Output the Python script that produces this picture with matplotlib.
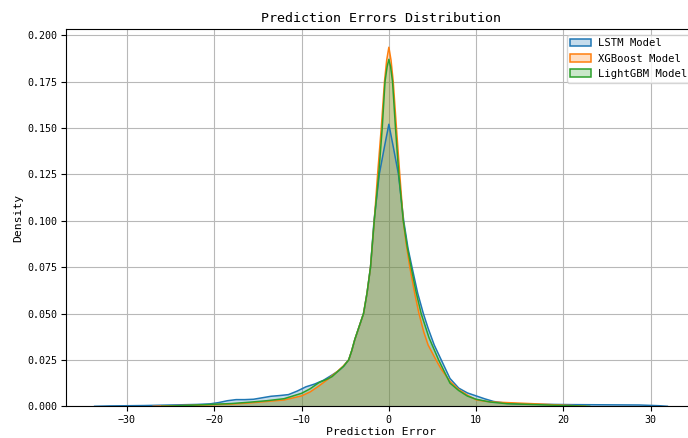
"""
Prediction error density curves (KDE) for three models
"""
import matplotlib
matplotlib.use('Agg')
import matplotlib.pyplot as plt
from matplotlib.patches import Patch
from matplotlib.colors import to_rgba

plt.rcParams['font.family'] = ['DejaVu Sans Mono']

# density curves
lstm_x = [-33.7, -32, -30, -28, -26, -24, -22, -20.5, -19.5, -18.5, -17.5, -16.5,
          -15.5, -14.5, -13.5, -12.5, -11.5, -10.5, -9.5, -8.5, -7.5, -6.7, -5.8,
          -5.2, -4.6, -4.25, -3.9, -3.4, -2.9, -2.5, -2.1, -1.7, -1.1, -0.5, 0,
          0.5, 1.1, 1.7, 2.2, 2.65, 3.3, 3.95, 4.5, 5.2, 6.0, 7, 8, 9, 10, 11, 12,
          13.5, 15, 17, 21, 25, 28.7, 31, 31.9]
lstm_density = [0, 0.0002, 0.0003, 0.0004, 0.0006, 0.0008, 0.001, 0.0013, 0.002,
                0.003, 0.0036, 0.0036, 0.0038, 0.0046, 0.0054, 0.0058, 0.0063,
                0.0082, 0.0105, 0.012, 0.014, 0.0163, 0.019, 0.0215, 0.025, 0.030,
                0.036, 0.043, 0.05, 0.061, 0.075, 0.1, 0.125, 0.140, 0.152, 0.140,
                0.125, 0.1, 0.085, 0.075, 0.061, 0.05, 0.042, 0.033, 0.025, 0.015,
                0.0098, 0.0072, 0.0056, 0.004, 0.0026, 0.0016, 0.0013, 0.0011,
                0.0009, 0.0008, 0.0007, 0.0003, 0]

xgb_x = [-27, -25, -22, -20, -18, -16, -14, -12, -10, -9, -8, -7, -6.5, -5.8, -5.2,
         -4.6, -4.25, -3.9, -3.4, -2.9, -2.5, -2.1, -1.67, -1.29, -0.87, -0.5,
         -0.25, 0, 0.25, 0.5, 0.87, 1.25, 1.65, 2.0, 2.4, 3.0, 3.45, 4.0, 4.5, 5.4,
         6, 7, 8, 9, 10, 11, 12, 13.5, 15, 17, 19, 21, 22.5]
xgb_density = [0, 0.0003, 0.0006, 0.0009, 0.0012, 0.0018, 0.0026, 0.0034, 0.0056,
               0.0078, 0.011, 0.0145, 0.0165, 0.0192, 0.0218, 0.025, 0.030, 0.036,
               0.043, 0.05, 0.061, 0.075, 0.1, 0.125, 0.15, 0.175, 0.1865, 0.1935,
               0.1865, 0.175, 0.15, 0.125, 0.1, 0.087, 0.075, 0.06, 0.05, 0.04,
               0.033, 0.025, 0.02, 0.0135, 0.009, 0.006, 0.0035, 0.0027, 0.0023,
               0.002, 0.0017, 0.0013, 0.0008, 0.0004, 0]

lgbm_x = [-26, -24, -22, -20, -18, -16, -14, -12, -10, -9, -8, -7, -6.5, -5.8, -5.2,
          -4.6, -4.25, -3.9, -3.4, -2.9, -2.5, -2.1, -1.67, -1.16, -0.76, -0.44,
          -0.2, 0, 0.2, 0.42, 0.76, 1.14, 1.65, 2.1, 2.55, 3.1, 3.7, 4.6, 5.7, 7, 8,
          9, 10, 11.6, 13.5, 17, 20, 23]
lgbm_density = [0, 0.0003, 0.0007, 0.0011, 0.0015, 0.0022, 0.003, 0.0041, 0.007,
                0.0095, 0.0128, 0.0148, 0.016, 0.019, 0.0215, 0.025, 0.030, 0.036,
                0.043, 0.05, 0.061, 0.075, 0.1, 0.125, 0.15, 0.175, 0.183, 0.187,
                0.183, 0.175, 0.15, 0.125, 0.1, 0.086, 0.075, 0.062, 0.05, 0.037,
                0.025, 0.0125, 0.0085, 0.0055, 0.0038, 0.0023, 0.0014, 0.0009,
                0.0004, 0]

model_names = ['LSTM Model', 'XGBoost Model', 'LightGBM Model']
colors = ['#1f77b4', '#ff7f0e', '#2ca02c']

fig = plt.figure(figsize=(6.88, 4.38), dpi=100)
ax = fig.add_axes([66 / 688, 31.7 / 438, 630 / 688, 377 / 438])

series = [(lstm_x, lstm_density), (xgb_x, xgb_density), (lgbm_x, lgbm_density)]
handles = []
for (xs, ys), name, c in zip(series, model_names, colors):
    ax.fill_between(xs, ys, facecolor=to_rgba(c, 0.25), edgecolor='none')
    ax.plot(xs, ys, color=c, linewidth=1.1)
    handles.append(Patch(facecolor=to_rgba(c, 0.25), edgecolor=c,
                         linewidth=1.1, label=name))

ax.set_ylim(0, None)
ax.set_yticks([0, 0.025, 0.05, 0.075, 0.1, 0.125, 0.15, 0.175, 0.2])
ax.yaxis.set_major_formatter(plt.FormatStrFormatter('%.3f'))
ax.tick_params(labelsize=7.2, length=3.5, width=0.8, pad=2.5)
ax.grid(True, color='#b8b8b8', linewidth=0.8)
ax.set_axisbelow(True)

ax.set_title('Prediction Errors Distribution', fontsize=9.6, pad=5)
ax.set_xlabel('Prediction Error', fontsize=8.2, labelpad=2)
ax.set_ylabel('Density', fontsize=8.2, labelpad=3)
ax.legend(handles=handles, loc='upper right', fontsize=7.6,
          handlelength=2.0, borderaxespad=0.5, handletextpad=0.6,
          borderpad=0.35)

plt.savefig('out.png', dpi=100)
